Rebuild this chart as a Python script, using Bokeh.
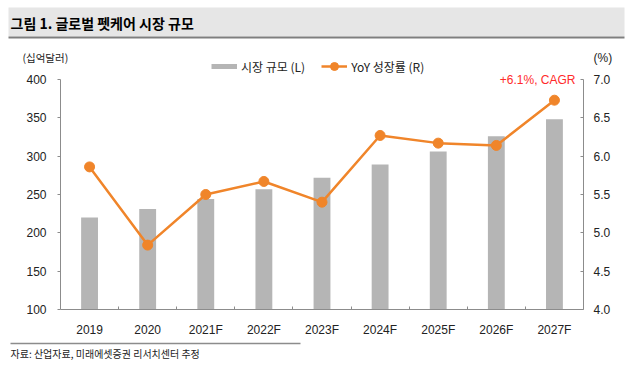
from bokeh.plotting import figure
from bokeh.layouts import column
from bokeh.models import (Range1d, LinearAxis, FixedTicker, NumeralTickFormatter,
                          Label, Legend, LegendItem, ColumnDataSource)
from bokeh.core.properties import value
from bokeh.embed import file_html
from bokeh.resources import INLINE

# ---- data ----
years = ["2019", "2020", "2021F", "2022F", "2023F", "2024F", "2025F", "2026F", "2027F"]
market_size = [220, 231, 244, 257, 272, 289, 306, 326, 348]      # 십억달러 (L)
yoy_growth = [5.86, 4.84, 5.50, 5.67, 5.40, 6.27, 6.17, 6.14, 6.73]  # % (R)
left_ticks = [100, 150, 200, 250, 300, 350, 400]
right_ticks = [4.0, 4.5, 5.0, 5.5, 6.0, 6.5, 7.0]

title_text = "그림 1. 글로벌 펫케어 시장 규모"
left_unit = "(십억달러)"
right_unit = "(%)"
legend_bar = "시장 규모 (L)"
legend_line = "YoY 성장률 (R)"
cagr_text = "+6.1%, CAGR"
source_text = "자료: 산업자료, 미래에셋증권 리서치센터 추정"

KR = "Noto Sans CJK KR"
NUM = "Liberation Sans"
TXT = "#222222"
AX = "#8c8c8c"
BAR = "#b5b5b5"
ORANGE = "#f0852a"

W = 631
TOP_H = 70          # header figure: page y 0..70
OVERLAP = 22        # main figure starts at page y 48 (transparent over header)
MAIN_START = TOP_H - OVERLAP
FRAME_TOP = 52      # page y of the plot frame top
MAIN_H = 340 - MAIN_START
FOOT_H = 376 - 340


def blank(h):
    f = figure(width=W, height=h, output_backend="svg", toolbar_location=None,
               x_range=Range1d(0, W), y_range=Range1d(h, 0),
               x_axis_location=None, y_axis_location=None,
               min_border_left=0, min_border_right=0,
               min_border_top=0, min_border_bottom=0, frame_align=False)
    f.grid.visible = False
    f.outline_line_color = None
    f.background_fill_color = "white"
    f.border_fill_color = "white"
    return f


# ---- header: title band + unit labels ----
top = blank(TOP_H)
top.quad(left=[8], right=[624], top=[7], bottom=[36], fill_color="#e6e6e6", line_color=None)
top.quad(left=[8], right=[624], top=[36], bottom=[38], fill_color="#7f7f7f", line_color=None)
top.text(x=[10], y=[22], text=[title_text], text_baseline="middle",
         text_font=value(KR), text_font_style="bold", text_font_size="14px",
         text_color="#000000")
top.text(x=[22], y=[57], text=[left_unit], text_baseline="middle",
         text_font=value(KR), text_font_size="10.5px", text_color=TXT)
top.text(x=[593], y=[57.5], text=[right_unit], text_baseline="middle",
         text_font=value(NUM), text_font_size="12px", text_color=TXT)

# ---- main chart ----
# value 400 (and 7.0) sits at page y 79, value 100 (4.0) at page y 309
px_per_unit = (309 - 79) / 300.0
left_top = 100 + (309 - FRAME_TOP) / px_per_unit
right_top = 4.0 + (left_top - 100) / 100.0

xs = [i + 0.5 for i in range(len(years))]
src = ColumnDataSource(dict(x=xs, size=market_size, yoy=yoy_growth))

p = figure(width=W, height=MAIN_H, output_backend="svg", toolbar_location=None,
           x_range=Range1d(0, len(years)), y_range=Range1d(100, left_top),
           min_border_left=60, min_border_right=48,
           min_border_top=FRAME_TOP - MAIN_START, min_border_bottom=31,
           y_axis_location=None, x_axis_location=None, frame_align=False,
           margin=(-OVERLAP, 0, 0, 0))
p.outline_line_color = None
p.grid.visible = False
p.background_fill_alpha = 0
p.border_fill_alpha = 0
p.extra_y_ranges = {"right": Range1d(4.0, right_top)}

xaxis = LinearAxis(ticker=FixedTicker(ticks=xs, minor_ticks=list(range(1, len(years)))),
                   major_label_overrides={x: y for x, y in zip(xs, years)})
xaxis.axis_line_color = AX
xaxis.major_tick_line_color = None
xaxis.minor_tick_line_color = AX
xaxis.minor_tick_in = 3
xaxis.minor_tick_out = 0
xaxis.major_label_standoff = 7
xaxis.major_label_text_font = NUM
xaxis.major_label_text_font_size = "12px"
xaxis.major_label_text_color = TXT
p.add_layout(xaxis, "below")

yaxis = LinearAxis(ticker=FixedTicker(ticks=left_ticks), bounds=(100, 400))
yaxis.axis_line_color = AX
yaxis.major_tick_line_color = AX
yaxis.major_tick_out = 3
yaxis.major_tick_in = 0
yaxis.minor_tick_line_color = None
yaxis.major_label_standoff = 11
yaxis.major_label_text_font = NUM
yaxis.major_label_text_font_size = "12px"
yaxis.major_label_text_color = TXT
p.add_layout(yaxis, "left")

raxis = LinearAxis(y_range_name="right", ticker=FixedTicker(ticks=right_ticks),
                   formatter=NumeralTickFormatter(format="0.0"), bounds=(4.0, 7.0))
raxis.axis_line_color = AX
raxis.major_tick_line_color = AX
raxis.major_tick_out = 0
raxis.major_tick_in = 3
raxis.minor_tick_line_color = None
raxis.major_label_standoff = 10
raxis.major_label_text_font = NUM
raxis.major_label_text_font_size = "12px"
raxis.major_label_text_color = TXT
p.add_layout(raxis, "right")

p.vbar(x="x", top="size", bottom=100, width=0.29, source=src,
       fill_color=BAR, line_color=None)

ln = p.line(x="x", y="yoy", source=src, y_range_name="right",
            line_color=ORANGE, line_width=2.5)
pts = p.scatter(x="x", y="yoy", source=src, y_range_name="right",
                size=10, fill_color=ORANGE, line_color=ORANGE)

# legend swatch for the bars: a thick grey stroke that draws nothing in the plot
swatch = p.line(x=[0.0], y=[float("nan")], line_color=BAR, line_width=5)

legend = Legend(items=[LegendItem(label=legend_bar, renderers=[swatch]),
                       LegendItem(label=legend_line, renderers=[ln, pts])],
                orientation="horizontal", location=(151, 233),
                glyph_width=26, glyph_height=20, label_standoff=4, spacing=16,
                padding=0, margin=0, border_line_color=None,
                background_fill_alpha=0,
                label_text_font=KR, label_text_font_size="12px",
                label_text_color=TXT)
p.add_layout(legend, "center")

p.add_layout(Label(x=len(years), y=7.0, y_range_name="right", text=cagr_text,
                   x_offset=-8, text_align="right", text_baseline="middle",
                   text_font=NUM, text_font_size="12px", text_color="#ff2a2a"))

# ---- footer ----
foot = blank(FOOT_H)
foot.segment(x0=[10], y0=[3], x1=[300], y1=[3], line_color="#8c8c8c", line_width=1.5)
foot.text(x=[10], y=[13], text=[source_text], text_baseline="middle",
          text_font=value(KR), text_font_size="10px", text_color=TXT)

layout = column(top, p, foot, spacing=0)
open("out.html", "w").write(file_html(layout, INLINE))
